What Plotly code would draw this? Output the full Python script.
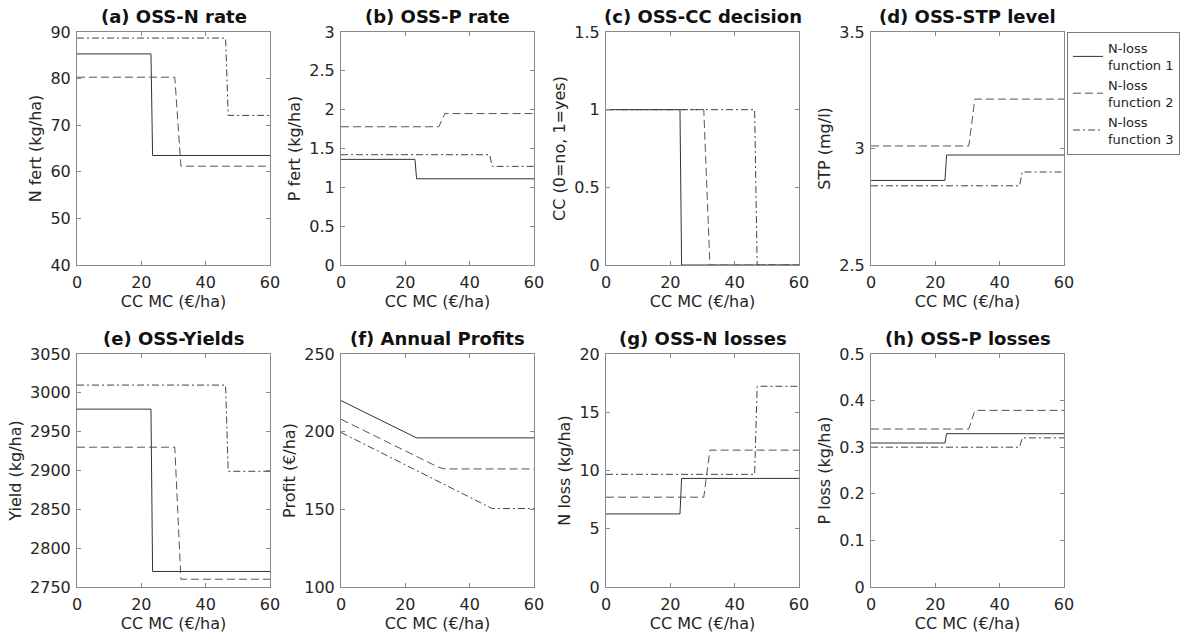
import plotly.graph_objects as go

# ---------------- data ----------------
series_names = ["N-loss<br>function 1", "N-loss<br>function 2", "N-loss<br>function 3"]

# CC marginal cost (€/ha) breakpoints for each N-loss function
cc_mc_f1 = [0, 23.0, 23.5, 60]
cc_mc_f2 = [0, 30.4, 32.3, 60]
cc_mc_f3 = [0, 46.2, 47.0, 60]

# (a) N fert (kg/ha)
n_fert_f1 = [85.3, 85.3, 63.5, 63.5]
n_fert_f2 = [80.3, 80.3, 61.2, 61.2]
n_fert_f3 = [88.7, 88.7, 72.1, 72.1]

# (b) P fert (kg/ha)
p_fert_f1 = [1.36, 1.36, 1.11, 1.11]
p_fert_f2 = [1.78, 1.78, 1.95, 1.95]
p_fert_f3 = [1.42, 1.42, 1.27, 1.27]

# (c) CC decision
cc_f1 = [1, 1, 0, 0]
cc_f2 = [1, 1, 0, 0]
cc_f3 = [1, 1, 0, 0]

# (d) STP (mg/l)
stp_f1 = [2.863, 2.863, 2.972, 2.972]
stp_f2 = [3.011, 3.011, 3.212, 3.212]
stp_f3 = [2.84, 2.84, 2.899, 2.899]

# (e) Yield (kg/ha)
yield_f1 = [2979, 2979, 2770, 2770]
yield_f2 = [2930, 2930, 2760, 2760]
yield_f3 = [3010, 3010, 2899, 2899]

# (f) Profit (€/ha)
profit_f1 = [220.0, 196.5, 196.0, 196.0]
profit_f2 = [208.0, 177.0, 176.0, 176.0]
profit_f3 = [199.5, 151.0, 150.5, 150.5]

# (g) N loss (kg/ha)
n_loss_f1 = [6.27, 6.27, 9.32, 9.32]
n_loss_f2 = [7.71, 7.71, 11.75, 11.75]
n_loss_f3 = [9.67, 9.67, 17.23, 17.23]

# (h) P loss (kg/ha)
p_loss_f1 = [0.309, 0.309, 0.329, 0.329]
p_loss_f2 = [0.339, 0.339, 0.379, 0.379]
p_loss_f3 = [0.300, 0.300, 0.320, 0.320]

x_ticks = [0, 20, 40, 60]

panels = [
    dict(title="(a) OSS-N rate", ylabel="N fert (kg/ha)", ys=[n_fert_f1, n_fert_f2, n_fert_f3],
         yrange=[40, 90], yticks=[40, 50, 60, 70, 80, 90]),
    dict(title="(b) OSS-P rate", ylabel="P fert (kg/ha)", ys=[p_fert_f1, p_fert_f2, p_fert_f3],
         yrange=[0, 3], yticks=[0, 0.5, 1, 1.5, 2, 2.5, 3]),
    dict(title="(c) OSS-CC decision", ylabel="CC (0=no, 1=yes)", ys=[cc_f1, cc_f2, cc_f3],
         yrange=[0, 1.5], yticks=[0, 0.5, 1, 1.5]),
    dict(title="(d) OSS-STP level", ylabel="STP (mg/l)", ys=[stp_f1, stp_f2, stp_f3],
         yrange=[2.5, 3.5], yticks=[2.5, 3, 3.5]),
    dict(title="(e) OSS-Yields", ylabel="Yield (kg/ha)", ys=[yield_f1, yield_f2, yield_f3],
         yrange=[2750, 3050], yticks=[2750, 2800, 2850, 2900, 2950, 3000, 3050]),
    dict(title="(f) Annual Profits", ylabel="Profit (€/ha)", ys=[profit_f1, profit_f2, profit_f3],
         yrange=[100, 250], yticks=[100, 150, 200, 250]),
    dict(title="(g) OSS-N losses", ylabel="N loss (kg/ha)", ys=[n_loss_f1, n_loss_f2, n_loss_f3],
         yrange=[0, 20], yticks=[0, 5, 10, 15, 20]),
    dict(title="(h) OSS-P losses", ylabel="P loss (kg/ha)", ys=[p_loss_f1, p_loss_f2, p_loss_f3],
         yrange=[0, 0.5], yticks=[0, 0.1, 0.2, 0.3, 0.4, 0.5]),
]

xs = [cc_mc_f1, cc_mc_f2, cc_mc_f3]

# ---------------- styling ----------------
W, H = 1181, 643
MR = 117                     # right margin reserved for the legend
PW = W - MR                  # plot-area width in px
FONT = "DejaVu Sans"
TXT = "#262626"
AXC = "#8a8a8a"
line_styles = [
    dict(color="#333333", width=1, dash="solid"),
    dict(color="#555555", width=1, dash="8px,4px"),
    dict(color="#444444", width=1, dash="7px,3px,2px,3px"),
]

col_left = [77, 341, 606, 871]
col_w = 193
row_top = [32, 354]
row_h = 233

fig = go.Figure()
annotations = []
layout_axes = {}

for i, p in enumerate(panels):
    r, c = divmod(i, 4)
    n = i + 1
    xa = "x" if n == 1 else f"x{n}"
    ya = "y" if n == 1 else f"y{n}"
    x0 = col_left[c] / PW
    x1 = min(1.0, (col_left[c] + col_w) / PW)
    y1 = 1 - row_top[r] / H
    y0 = 1 - (row_top[r] + row_h) / H
    for k in range(3):
        fig.add_trace(go.Scatter(
            x=xs[k], y=p["ys"][k], mode="lines", line=line_styles[k],
            name=series_names[k], legendgroup=f"f{k}", showlegend=(i == 0),
            xaxis=xa, yaxis=ya, hoverinfo="skip",
        ))
    axis_common = dict(
        showline=True, linecolor=AXC, linewidth=1, mirror="ticks",
        ticks="inside", ticklen=4, tickcolor=AXC, tickwidth=1,
        showgrid=False, zeroline=False,
        tickfont=dict(family=FONT, size=16, color=TXT),
    )
    layout_axes["xaxis" + ("" if n == 1 else str(n))] = dict(
        axis_common, domain=[x0, x1], range=[0, 60], tickvals=x_ticks,
        anchor=ya, ticklabelstandoff=3,
        title=dict(text="CC MC (€/ha)", font=dict(family=FONT, size=16, color=TXT), standoff=4),
    )
    layout_axes["yaxis" + ("" if n == 1 else str(n))] = dict(
        axis_common, domain=[y0, y1], range=p["yrange"], tickvals=p["yticks"],
        anchor=xa, ticklabelstandoff=2,
        title=dict(text=p["ylabel"], font=dict(family=FONT, size=16, color=TXT), standoff=4),
    )
    annotations.append(dict(
        text=f"<b>{p['title']}</b>", x=(x0 + x1) / 2, y=y1, xref="paper", yref="paper",
        xanchor="center", yanchor="bottom", yshift=3, showarrow=False,
        font=dict(family=FONT, size=18, color="#111111"),
    ))

fig.update_layout(
    width=W, height=H,
    margin=dict(l=0, r=MR, t=0, b=0, autoexpand=False),
    paper_bgcolor="white", plot_bgcolor="white",
    font=dict(family=FONT, size=16, color=TXT),
    showlegend=True,
    hovermode=False,
    legend=dict(
        x=1067 / PW, y=1 - 32 / H, xanchor="left", yanchor="top",
        bgcolor="white", bordercolor="#7a7a7a", borderwidth=1,
        font=dict(family=FONT, size=13, color=TXT),
        itemwidth=30, tracegroupgap=0,
    ),
    annotations=annotations,
    **layout_axes,
)

fig.write_html("out.html", config={"displayModeBar": False},
               post_script="document.body.style.margin='0px';")
